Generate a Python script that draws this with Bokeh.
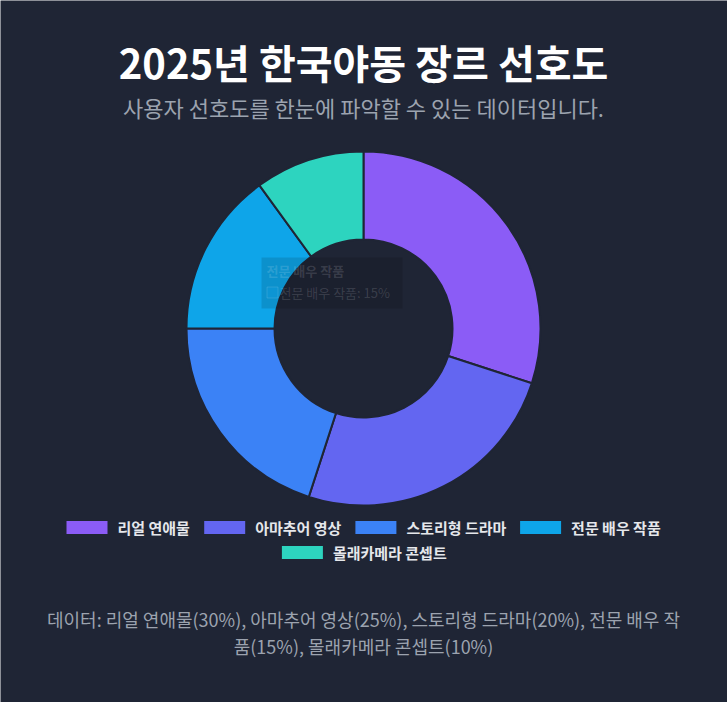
import numpy as np
from bokeh.plotting import figure
from bokeh.models import ColumnDataSource, Range1d
from bokeh.embed import file_html
from bokeh.resources import INLINE
from bokeh.core.properties import value

# chart data
title = "2025년 한국야동 장르 선호도"
subtitle = "사용자 선호도를 한눈에 파악할 수 있는 데이터입니다."
categories = ["리얼 연애물", "아마추어 영상", "스토리형 드라마", "전문 배우 작품", "몰래카메라 콘셉트"]
shares = [30, 25, 20, 15, 10]
hovered = 3  # slice whose tooltip is fading out in the picture

colors = ["#8b5cf6", "#6366f1", "#3b82f6", "#0ea5e9", "#2dd4bf"]
BG = "#1f2535"
FONT = "Noto Sans CJK KR"

W, H = 727, 702
CX, CY = 363, -328          # page pixels, y pointing down -> negative
R_OUT, R_IN = 177, 89


def text_width(s, size):
    # rough width in px for Noto Sans CJK KR as rendered here
    w = 0
    for ch in s:
        if ch == " ":
            w += 0.28 * size
        elif ord(ch) > 0x3000:
            w += 0.9 * size
        else:
            w += 0.55 * size
    return w


p = figure(width=W, height=H, output_backend="svg", toolbar_location=None,
           x_range=Range1d(0, W), y_range=Range1d(-H, 0),
           min_border=0, background_fill_color=BG, border_fill_color=BG)
p.axis.visible = False
p.grid.visible = False
p.outline_line_color = None

# donut
frac = np.array(shares, dtype=float) / sum(shares)
ends = np.cumsum(frac)
starts = ends - frac
src = ColumnDataSource(dict(
    cat=categories, share=shares, color=colors,
    start=np.pi / 2 - starts * 2 * np.pi,
    end=np.pi / 2 - ends * 2 * np.pi,
))
p.annular_wedge(x=CX, y=CY, inner_radius=R_IN, outer_radius=R_OUT,
                start_angle="start", end_angle="end", direction="clock",
                fill_color="color", line_color=BG, line_width=2, source=src)

# faded tooltip left over from hovering
tip = f"{categories[hovered]}: {shares[hovered]}%"
p.quad(left=261, right=402, top=-257, bottom=-308, fill_color="black",
       fill_alpha=0.12, line_color=None)
p.text(x=[266], y=[-270], text=[categories[hovered]], text_font=value(FONT),
       text_font_size="13px", text_font_style="bold", text_color="white",
       text_alpha=0.14, text_baseline="middle")
p.rect(x=[272], y=[-292], width=11, height=11, fill_color=colors[hovered],
       fill_alpha=0.25, line_color="white", line_alpha=0.12)
p.text(x=[279], y=[-292], text=[tip], text_font=value(FONT),
       text_font_size="13px", text_color="white", text_alpha=0.14,
       text_baseline="middle")

# titles
p.text(x=[363], y=[-61], text=[title], text_font=value(FONT),
       text_font_size="40px", text_font_style="bold", text_color="white",
       text_align="center", text_baseline="middle")
p.text(x=[363], y=[-106], text=[subtitle], text_font=value(FONT),
       text_font_size="22px", text_color="#9ca3af",
       text_align="center", text_baseline="middle")

# legend, two centered rows
rows = [[0, 1, 2, 3], [4]]
row_y = [-527, -552]
box_w, gap_in, gap_out, lsize = 41, 10, 15, 15
lx, ly, lt, bx, by, bc = [], [], [], [], [], []
for row, yy in zip(rows, row_y):
    widths = [box_w + gap_in + text_width(categories[i], lsize) for i in row]
    total = sum(widths) + gap_out * (len(row) - 1)
    x = CX - total / 2
    for i, w in zip(row, widths):
        bx.append(x + box_w / 2)
        by.append(yy)
        bc.append(colors[i])
        lx.append(x + box_w + gap_in)
        ly.append(yy)
        lt.append(categories[i])
        x += w + gap_out
p.rect(x=bx, y=by, width=box_w, height=13, fill_color=bc, line_color=None)
p.text(x=lx, y=ly, text=lt, text_font=value(FONT), text_font_size=f"{lsize}px",
       text_font_style="bold", text_color="#e5e7eb", text_baseline="middle")

# footer note, wrapped as in the picture
note = "데이터: " + ", ".join(f"{c}({s}%)" for c, s in zip(categories, shares))
cut = note.index("품(15%)")
p.text(x=[363, 363], y=[-618, -645], text=[note[:cut], note[cut:]],
       text_font=value(FONT), text_font_size="18px", text_color="#9ca3af",
       text_align="center", text_baseline="middle")

open("out.html", "w").write(file_html(p, INLINE))
